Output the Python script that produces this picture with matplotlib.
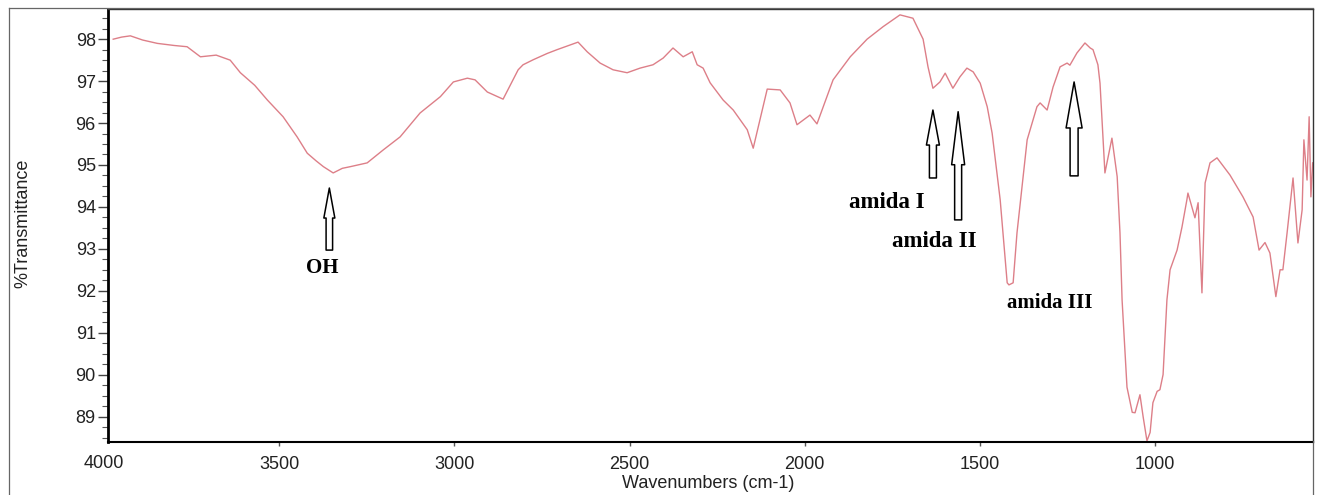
import matplotlib.pyplot as plt
from matplotlib.lines import Line2D
from matplotlib.ticker import MultipleLocator

# FTIR spectrum, wavenumber (cm-1) vs %T
wavenumber = [3974, 3950, 3925, 3890, 3848, 3800, 3763, 3725, 3680, 3640,
              3611, 3570, 3534, 3489, 3449, 3420, 3395, 3374, 3346, 3320,
              3297, 3249, 3203, 3155, 3098, 3040, 3003, 2963, 2941, 2906,
              2861, 2818, 2804, 2775, 2735, 2707, 2647, 2621, 2584, 2547,
              2507, 2470, 2433, 2404, 2376, 2347, 2321, 2307, 2290, 2270,
              2233, 2204, 2164, 2147, 2107, 2070, 2042, 2022, 1985, 1965,
              1919, 1870, 1822, 1776, 1728, 1691, 1662, 1648, 1634, 1614,
              1599, 1577, 1557, 1537, 1519, 1499, 1479, 1465, 1442, 1422,
              1417, 1405, 1394, 1365, 1337, 1328, 1308, 1291, 1271, 1251,
              1243, 1223, 1200, 1185, 1177, 1163, 1157, 1148, 1143, 1123,
              1108, 1100, 1094, 1080, 1065, 1057, 1043, 1034, 1023, 1014,
              1006, 994, 986, 977, 966, 957, 937, 923, 909, 906,
              886, 877, 866, 857, 843, 823, 786, 749, 720, 703,
              686, 672, 655, 643, 635, 623, 606, 592, 580, 575,
              566, 560, 555, 550]
transmittance = [98.00, 98.05, 98.08, 97.98, 97.90, 97.85, 97.82, 97.58, 97.62, 97.50,
                 97.20, 96.90, 96.55, 96.15, 95.67, 95.28, 95.10, 94.96, 94.81, 94.92,
                 94.96, 95.05, 95.36, 95.67, 96.24, 96.63, 96.98, 97.07, 97.03, 96.74,
                 96.57, 97.27, 97.39, 97.51, 97.66, 97.75, 97.93, 97.70, 97.43, 97.27,
                 97.20, 97.31, 97.39, 97.55, 97.79, 97.58, 97.70, 97.39, 97.31, 96.96,
                 96.55, 96.31, 95.84, 95.40, 96.81, 96.79, 96.48, 95.96, 96.19, 95.98,
                 97.03, 97.58, 98.00, 98.30, 98.58, 98.50, 98.00, 97.34, 96.83, 96.98,
                 97.19, 96.83, 97.10, 97.31, 97.22, 96.95, 96.39, 95.76, 94.17, 92.19,
                 92.14, 92.19, 93.38, 95.60, 96.39, 96.48, 96.31, 96.86, 97.34, 97.43,
                 97.38, 97.67, 97.91, 97.79, 97.75, 97.39, 96.95, 95.60, 94.81, 95.64,
                 94.72, 93.38, 91.78, 89.70, 89.10, 89.09, 89.52, 89.00, 88.42, 88.62,
                 89.33, 89.60, 89.64, 90.00, 91.78, 92.50, 92.97, 93.52, 94.17, 94.33,
                 93.74, 94.10, 91.95, 94.57, 95.05, 95.17, 94.76, 94.24, 93.76, 92.97,
                 93.15, 92.90, 91.86, 92.50, 92.50, 93.38, 94.69, 93.14, 93.93, 95.60,
                 94.64, 96.15, 94.24, 95.05]

xticks = [4000, 3500, 3000, 2500, 2000, 1500, 1000]
yticks = [89, 90, 91, 92, 93, 94, 95, 96, 97, 98]

# band assignments
band_names = ["OH", "amida I", "amida II", "amida III"]
band_text_x = [3377, 1765, 1631, 1300]
band_text_y = [92.55, 94.10, 93.17, 91.71]

# arrows: x, tip, base
arrow_x = [3357, 1634, 1562, 1231]
arrow_tip = [94.45, 96.31, 96.27, 96.98]
arrow_base = [92.97, 94.69, 93.69, 94.74]

W, H = 1322, 495
fig = plt.figure(figsize=(W / 100, H / 100), dpi=100)
ax = fig.add_axes([108.3 / W, 1 - 441.7 / H, (1313 - 108.3) / W, (441.7 - 9) / H])

ax.plot(wavenumber, transmittance, color="#dd7f88", lw=1.0)

ax.set_xlim(3988, 549)
ax.set_ylim(88.4, 98.72)
ax.set_xticks(xticks[1:])
ax.set_yticks(yticks)
ax.yaxis.set_minor_locator(MultipleLocator(0.25))

tick_font = {"family": "Liberation Sans", "size": 13}
ax.set_xticklabels([str(t) for t in xticks[1:]], fontdict=tick_font, color="#222222")
ax.set_yticklabels([str(t) for t in yticks], fontdict=tick_font, color="#222222")
ax.tick_params(axis="y", which="major", length=7, width=1, color="#444444", pad=2)
ax.tick_params(axis="y", which="minor", length=4, width=0.8, color="#555555")
ax.tick_params(axis="x", which="major", length=3, width=1, color="#555555", pad=7)

# the 4000 label sits just left of the frame start
ax.text(xticks[0], -0.0495, str(xticks[0]), transform=ax.get_xaxis_transform(),
        ha="center", va="center", clip_on=False, color="#222222", **tick_font)

ax.spines["left"].set_linewidth(2.0)
ax.spines["bottom"].set_linewidth(1.5)
ax.spines["top"].set_linewidth(1.0)
ax.spines["right"].set_linewidth(1.0)
for s in ["top", "right"]:
    ax.spines[s].set_color("#333333")

fig.text(708 / W, 1 - 484 / H, "Wavenumbers (cm-1)", ha="center", va="center",
         family="Liberation Sans", size=13, color="#222222")
fig.text(23 / W, 1 - 223 / H, "%Transmittance", ha="center", va="center",
         rotation=90, family="Liberation Sans", size=13, color="#222222")

# outer frame of the printout
frame = dict(transform=fig.transFigure, color="#666666", lw=0.9)
fig.add_artist(Line2D([9 / W, 9 / W], [1 - 8 / H, 0], **frame))
fig.add_artist(Line2D([9 / W, 1313 / W], [1 - 8 / H, 1 - 8 / H], **frame))
fig.add_artist(Line2D([1313 / W, 1313 / W], [1 - 441 / H, 0], **frame))

# hollow block arrows, sizes in px (mutation_scale 7.2pt -> 10 px per unit)
head_len = [3.0, 3.5, 5.3, 4.6]
head_wid = [1.1, 1.3, 1.3, 1.6]
tail_wid = [0.65, 0.7, 0.7, 0.8]
for i in range(len(arrow_x)):
    ax.annotate("", xy=(arrow_x[i], arrow_tip[i]),
                xytext=(arrow_x[i], arrow_base[i]),
                arrowprops=dict(arrowstyle="simple,head_length=%.2f,head_width=%.2f,tail_width=%.2f"
                                % (head_len[i], head_wid[i], tail_wid[i]),
                                fc="white", ec="black", lw=1.1,
                                shrinkA=0, shrinkB=0, mutation_scale=7.2))

label_sizes = [15, 16.5, 16.5, 15]
for name, x, y, s in zip(band_names, band_text_x, band_text_y, label_sizes):
    ax.text(x, y, name, ha="center", va="center", family="Liberation Serif",
            weight="bold", size=s, color="black")

fig.savefig("out.png", dpi=100)
